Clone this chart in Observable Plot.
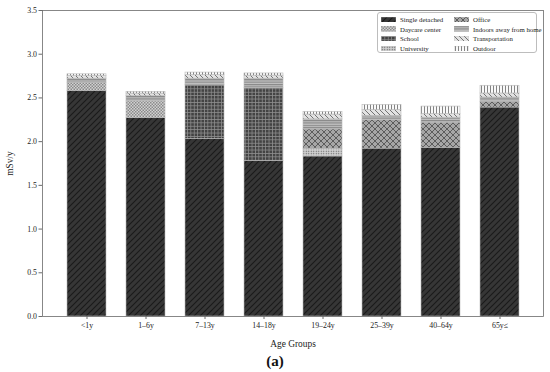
<!DOCTYPE html>
<html>
<head>
<meta charset="utf-8">
<script src="https://cdn.jsdelivr.net/npm/d3@7"></script>
<script src="https://cdn.jsdelivr.net/npm/@observablehq/plot@0.6"></script>
<style>
  html, body { margin: 0; padding: 0; background: #fff; }
  #wrap { position: relative; width: 550px; height: 372px; font-family: "Liberation Serif", "DejaVu Serif", serif; }
  #legend { position: absolute; left: 377px; top: 12px; width: 160px; height: 41px; box-sizing: border-box;
            border: 1px solid #bdbdbd; border-radius: 3px; background: #fff; font-size: 6.8px; color: #222; }
  .item { position: absolute; display: flex; align-items: center; white-space: nowrap; }
  .item svg { margin-right: 4px; }
  #caption { text-align: center; font-weight: bold; font-size: 15px; line-height: 19px; color: #111; }
</style>
</head>
<body>
<svg width="0" height="0" style="position:absolute">
  <defs>
    <pattern id="p-single" patternUnits="userSpaceOnUse" width="6" height="6">
      <rect width="6" height="6" fill="#363636"/>
      <path d="M0,6 L6,0 M-1.5,1.5 L1.5,-1.5 M4.5,7.5 L7.5,4.5" stroke="#1a1a1a" stroke-width="1.2"/>
    </pattern>
    <pattern id="p-daycare" patternUnits="userSpaceOnUse" width="3" height="3">
      <rect width="3" height="3" fill="#d2d2d2"/>
      <rect width="1.5" height="1.5" fill="#8a8a8a"/>
      <rect x="1.5" y="1.5" width="1.5" height="1.5" fill="#8a8a8a"/>
    </pattern>
    <pattern id="p-school" patternUnits="userSpaceOnUse" width="3.4" height="3.4">
      <rect width="3.4" height="3.4" fill="#434343"/>
      <path d="M0,0.4 H3.4 M0.4,0 V3.4" stroke="#8e8e8e" stroke-width="0.8"/>
    </pattern>
    <pattern id="p-univ" patternUnits="userSpaceOnUse" width="2.5" height="2.5">
      <rect width="2.5" height="2.5" fill="#d0d0d0"/>
      <circle cx="1.25" cy="1.25" r="0.65" fill="#555"/>
    </pattern>
    <pattern id="p-office" patternUnits="userSpaceOnUse" width="6" height="6">
      <rect width="6" height="6" fill="#a6a6a6"/>
      <path d="M0,6 L6,0 M-1.5,1.5 L1.5,-1.5 M4.5,7.5 L7.5,4.5 M0,0 L6,6 M-1.5,4.5 L1.5,7.5 M4.5,-1.5 L7.5,1.5" stroke="#5c5c5c" stroke-width="1"/>
    </pattern>
    <pattern id="p-indoor" patternUnits="userSpaceOnUse" width="4" height="2.4">
      <rect width="4" height="2.4" fill="#c2c2c2"/>
      <path d="M0,0.6 H4" stroke="#7e7e7e" stroke-width="1"/>
    </pattern>
    <pattern id="p-trans" patternUnits="userSpaceOnUse" width="5" height="5">
      <rect width="5" height="5" fill="#e2e2e2"/>
      <path d="M0,0 L5,5 M-1.25,3.75 L1.25,6.25 M3.75,-1.25 L6.25,1.25" stroke="#666" stroke-width="0.9"/>
    </pattern>
    <pattern id="p-outdoor" patternUnits="userSpaceOnUse" width="3" height="4">
      <rect width="3" height="4" fill="#fafafa"/>
      <path d="M1.5,0 V4" stroke="#777" stroke-width="0.9"/>
    </pattern>
  </defs>
</svg>
<div id="wrap">
  <div id="chart"></div>
  <div id="legend"></div>
  <div id="caption">(a)</div>
</div>
<script>
const ageGroups = ["<1y", "1–6y", "7–13y", "14–18y", "19–24y", "25–39y", "40–64y", "65y≤"];
const sources = ["Single detached", "Daycare center", "School", "University", "Office", "Indoors away from home", "Transportation", "Outdoor"];
const patternIds = ["p-single", "p-daycare", "p-school", "p-univ", "p-office", "p-indoor", "p-trans", "p-outdoor"];

const singleDetached = [2.58, 2.27, 2.03, 1.78, 1.83, 1.92, 1.93, 2.39];
const daycareCenter  = [0.095, 0.19, 0, 0, 0, 0, 0, 0];
const school         = [0, 0, 0.615, 0.83, 0, 0, 0, 0];
const university     = [0, 0, 0, 0, 0.09, 0, 0, 0];
const office         = [0, 0, 0, 0, 0.22, 0.325, 0.287, 0.065];
const indoorsAway    = [0.045, 0.06, 0.075, 0.11, 0.115, 0.05, 0.057, 0.05];
const transportation = [0.03, 0.03, 0.04, 0.035, 0.055, 0.065, 0.04, 0.046];
const outdoor        = [0.02, 0.02, 0.03, 0.025, 0.03, 0.06, 0.087, 0.088];
const yTicks = [0, 0.5, 1.0, 1.5, 2.0, 2.5, 3.0, 3.5];

const series = [singleDetached, daycareCenter, school, university, office, indoorsAway, transportation, outdoor];
const rows = [];
series.forEach((vals, si) => vals.forEach((v, i) => {
  if (v > 0) rows.push({age: ageGroups[i], source: sources[si], value: v});
}));

const chart = Plot.plot({
  width: 550,
  height: 352,
  marginTop: 10,
  marginBottom: 36,
  marginLeft: 42,
  marginRight: 7,
  style: {fontFamily: "'Liberation Serif', 'DejaVu Serif', serif", fontSize: "7.8px", color: "#222", background: "#fff"},
  x: {domain: ageGroups, paddingInner: 0.345, paddingOuter: 0.369, label: null},
  y: {domain: [0, 3.5], label: null},
  color: {type: "ordinal", domain: sources, range: patternIds.map(id => `url(#${id})`)},
  marks: [
    Plot.barY(rows, Plot.stackY({order: sources, x: "age", y: "value", fill: "source", stroke: "#b8b8b8", strokeWidth: 0.6})),
    Plot.frame({stroke: "#6a6a6a", strokeWidth: 0.8}),
    Plot.axisY({ticks: yTicks, tickFormat: d3.format(".1f"), tickSize: 3.5, tickPadding: 2, stroke: "#6a6a6a",
                label: "mSv/y", labelAnchor: "center", labelArrow: "none", labelOffset: 36}),
    Plot.axisX({tickSize: 3, tickPadding: 2.5, stroke: "#6a6a6a",
                label: "Age Groups", labelAnchor: "center", labelArrow: "none", labelOffset: 30})
  ]
});
document.getElementById("chart").appendChild(chart);

chart.querySelectorAll("g[aria-label='y-axis label'] text, g[aria-label='x-axis label'] text").forEach(t => t.setAttribute("font-size", "9.4"));
chart.querySelectorAll("g[aria-label='y-axis tick label'] text, g[aria-label='x-axis tick label'] text").forEach(t => t.setAttribute("font-size", "7.8"));

const legend = document.getElementById("legend");
sources.forEach((s, i) => {
  const col = Math.floor(i / 4), row = i % 4;
  const item = document.createElement("div");
  item.className = "item";
  item.style.left = (col === 0 ? 3 : 76) + "px";
  item.style.top = (2 + row * 9.6) + "px";
  item.style.height = "9px";
  item.innerHTML = `<svg width="15" height="5.5"><rect width="15" height="5.5" fill="url(#${patternIds[i]})" stroke="#b8b8b8" stroke-width="0.5"/></svg><span>${s}</span>`;
  legend.appendChild(item);
});
</script>
</body>
</html>
